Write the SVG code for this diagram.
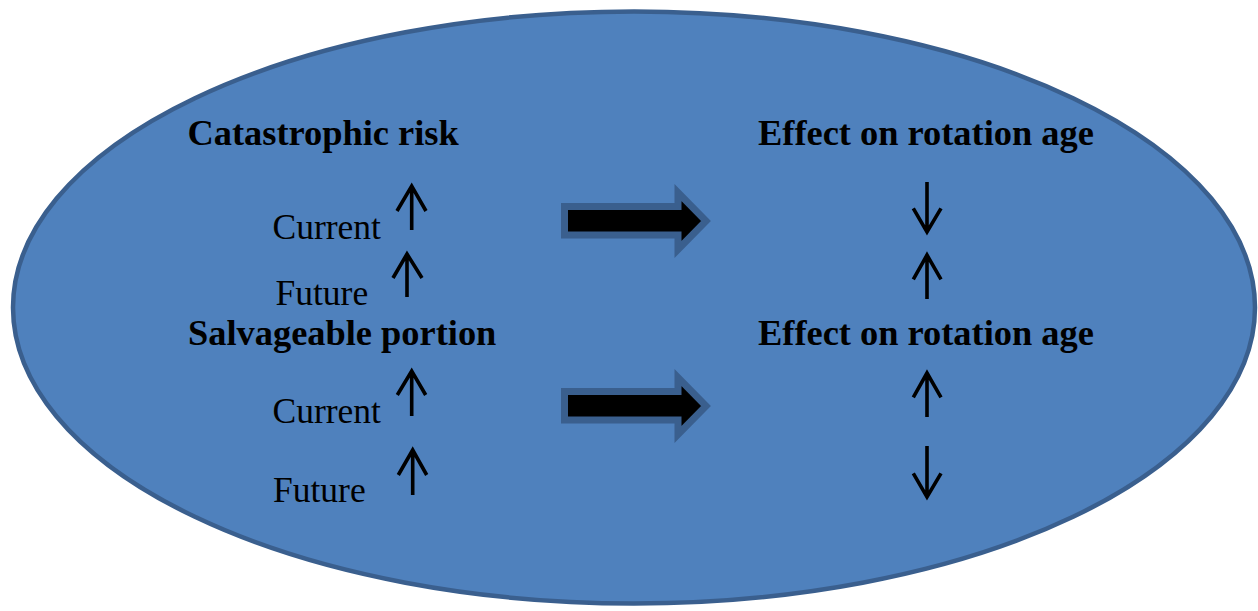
<svg xmlns="http://www.w3.org/2000/svg" width="1258" height="611" viewBox="0 0 1258 611">
<style>
.bold{font-family:"Liberation Serif","Times New Roman",serif;font-weight:bold;font-size:36.4px;fill:#000}
.reg{font-family:"Liberation Serif","Times New Roman",serif;font-size:35.5px;fill:#000}
.ind{fill:none;stroke:#000;stroke-width:3.6;stroke-linecap:butt;stroke-linejoin:miter}
.block{fill:#000;stroke:#3A5F8E;stroke-width:7;stroke-linejoin:miter}
</style>
<rect width="1258" height="611" fill="#fff"/>
<g id="background">
<ellipse cx="634" cy="307.5" rx="621" ry="296" fill="#4F81BD" stroke="#3A5F8E" stroke-width="4.5"/>
</g>
<g id="catastrophic-risk">
<text class="bold" x="187.5" y="145">Catastrophic risk</text>
<text class="reg" x="272.5" y="239">Current</text>
<path class="ind" d="M411.7 230 V186 M397 211 L411.7 186 L426 211"/>
<text class="reg" x="275.5" y="305">Future</text>
<path class="ind" d="M407 297 V254 M393 278 L407 254 L422 278"/>
</g>
<g id="effect-rotation-1">
<text class="bold" x="758" y="145">Effect on rotation age</text>
<path class="ind" d="M927 182 V231 M913.3 208.3 L927 232 L941 208.3"/>
<path class="ind" d="M927 299 V256 M913.3 279.3 L927 255 L941 279.3"/>
</g>
<g id="salvageable-portion">
<text class="bold" x="188" y="345">Salvageable portion</text>
<text class="reg" x="272.5" y="423">Current</text>
<path class="ind" d="M411.7 416 V372 M397.3 395 L411.7 371 L425.7 395"/>
<text class="reg" x="273" y="502">Future</text>
<path class="ind" d="M412.7 495 V451 M398.3 475 L412.7 450 L426.7 475"/>
</g>
<g id="effect-rotation-2">
<text class="bold" x="758" y="345">Effect on rotation age</text>
<path class="ind" d="M927 417 V375 M913.3 397.3 L927 373 L941 397.3"/>
<path class="ind" d="M927 446 V495 M913.3 473.3 L927 497 L941 473.3"/>
</g>
<g id="connectors">
<path class="block" d="M564.5 206.5 H678 V192.5 L706 221 L678 249.5 V235 H564.5 Z"/>
<path class="block" d="M564.5 391.5 H678 V377.5 L706 406 L678 434.5 V420 H564.5 Z"/>
</g>
</svg>
